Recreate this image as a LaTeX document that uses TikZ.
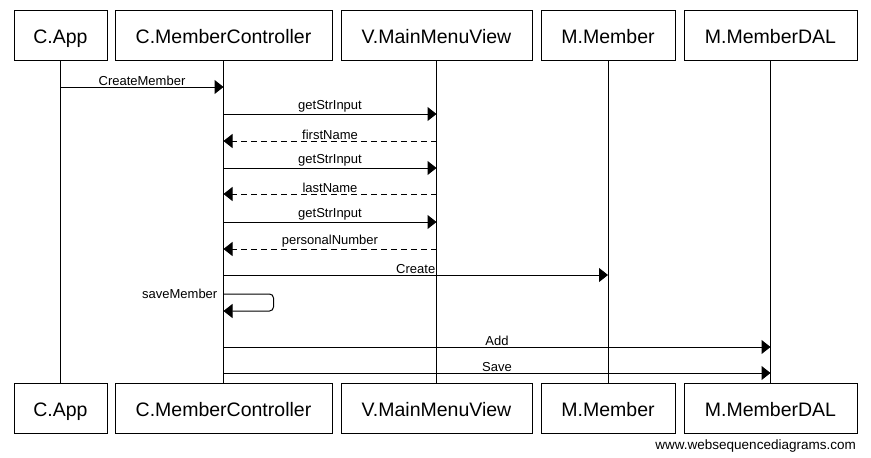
\documentclass[tikz,border=0pt]{standalone}
\usepackage{fontspec}
\setmainfont{Liberation Sans}
\usepackage{tikz}
\usetikzlibrary{arrows.meta}

\begin{document}
\begin{tikzpicture}[
		x=1pt, y=-1pt,
		actor/.style={rectangle, draw, line width=1pt, minimum height=50pt, inner sep=0pt, text height=17pt, text depth=0pt, font=\fontsize{19.5}{23}\selectfont},
		lifeline/.style={line width=1pt},
		call/.style={-{Triangle[length=9pt,width=14pt]}, line width=1pt},
		reply/.style={call, dash pattern=on 6pt off 4pt},
		msg/.style={above, inner sep=1pt, font=\fontsize{13}{15}\selectfont}
	]
		\useasboundingbox (0,0) rectangle (871,458);
		
		% Participants (top)
		\node[actor, minimum width=93pt] (app) at (60.5,35) {C.App};
		\node[actor, minimum width=217pt] (ctrl) at (223.5,35) {C.MemberController};
		\node[actor, minimum width=191pt] (view) at (436.5,35) {V.MainMenuView};
		\node[actor, minimum width=134pt] (member) at (608,35) {M.Member};
		\node[actor, minimum width=173pt] (dal) at (770.5,35) {M.MemberDAL};
		
		% Participants (bottom)
		\node[actor, minimum width=93pt] (appB) at (60.5,408) {C.App};
		\node[actor, minimum width=217pt] (ctrlB) at (223.5,408) {C.MemberController};
		\node[actor, minimum width=191pt] (viewB) at (436.5,408) {V.MainMenuView};
		\node[actor, minimum width=134pt] (memberB) at (608,408) {M.Member};
		\node[actor, minimum width=173pt] (dalB) at (770.5,408) {M.MemberDAL};
		
		% Lifelines
		\draw[lifeline] (app) -- (appB);
		\draw[lifeline] (ctrl) -- (ctrlB);
		\draw[lifeline] (view) -- (viewB);
		\draw[lifeline] (member) -- (memberB);
		\draw[lifeline] (dal) -- (dalB);
		
		% Message rows
		\coordinate (r1) at (0,87);
		\coordinate (r2) at (0,114);
		\coordinate (r3) at (0,141);
		\coordinate (r4) at (0,168);
		\coordinate (r5) at (0,194);
		\coordinate (r6) at (0,222);
		\coordinate (r7) at (0,249);
		\coordinate (r8) at (0,275);
		\coordinate (r9) at (0,294);
		\coordinate (r10) at (0,311);
		\coordinate (r11) at (0,347);
		\coordinate (r12) at (0,373);
		
		% Messages
		\draw[call] (app |- r1) -- node[msg] {CreateMember} (ctrl |- r1);
		\draw[call] (ctrl |- r2) -- node[msg] {getStrInput} (view |- r2);
		\draw[reply] (view |- r3) -- node[msg] {firstName} (ctrl |- r3);
		\draw[call] (ctrl |- r4) -- node[msg] {getStrInput} (view |- r4);
		\draw[reply] (view |- r5) -- node[msg] {lastName} (ctrl |- r5);
		\draw[call] (ctrl |- r6) -- node[msg] {getStrInput} (view |- r6);
		\draw[reply] (view |- r7) -- node[msg] {personalNumber} (ctrl |- r7);
		\draw[call] (ctrl |- r8) -- node[msg] {Create} (member |- r8);
		
		% Self call
		\draw[call, rounded corners=4pt] (ctrl |- r9) -- ([xshift=50pt]ctrl |- r9) -- ([xshift=50pt]ctrl |- r10) -- (ctrl |- r10);
		\node[msg, anchor=east] (selfcall) at ([xshift=-5pt]ctrl |- r9) {saveMember};
		
		\draw[call] (ctrl |- r11) -- node[msg] {Add} (dal |- r11);
		\draw[call] (ctrl |- r12) -- node[msg] {Save} (dal |- r12);
		
		% Watermark
		\node[anchor=east, inner sep=0pt, font=\fontsize{13.5}{16}\selectfont] (site) at (856,446) {www.websequencediagrams.com};
	\end{tikzpicture}
\end{document}
